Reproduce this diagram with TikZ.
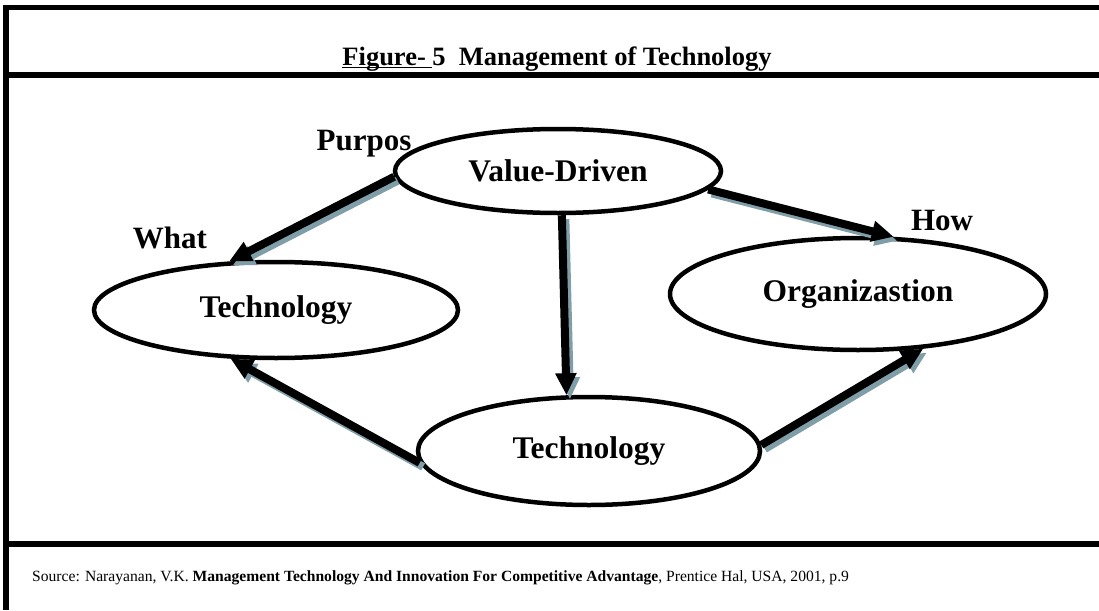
\documentclass[tikz,border=0pt]{standalone}
\usepackage{fontspec}
\setmainfont{Liberation Serif}
\usetikzlibrary{arrows.meta, shapes.geometric}
\definecolor{shadowblue}{RGB}{128,158,168}
\newlength\ullen
\newcommand\thickul[1]{\settowidth{\ullen}{#1}\rlap{\rule[-3.5pt]{\ullen}{1.8pt}}#1}
\begin{document}
\begin{tikzpicture}[
                    x=1pt, y=-1pt,
                    frame/.style={line width=5.5pt},
                    bubble/.style={ellipse, draw, line width=4.5pt, inner sep=0pt,
                        font=\bfseries\fontsize{31.5}{31.5}\selectfont},
                    tag/.style={anchor=base, font=\bfseries\fontsize{31}{31}\selectfont},
                    flow/.style={line width=8pt, -{Triangle[length=22pt,width=20pt]}},
                    flowshadow/.style={flow, draw=shadowblue},
                ]
                \useasboundingbox (0,0) rectangle (1099,610);

                \draw[frame] (1099,7.5) -- (6,7.5) -- (6,610);
                \draw[frame] (6,75) -- (1099,75);
                \draw[frame] (6,544) -- (1099,544);

                \node[anchor=base, font=\bfseries\fontsize{26.5}{26.5}\selectfont] (title) at (557,65)
                    {\thickul{Figure-\ }5\ \ Management of Technology};

                \node[bubble, minimum width=326pt, minimum height=84pt] (vd) at (558,171) {Value-Driven};
                \node[bubble, minimum width=364pt, minimum height=96pt] (tl) at (276,310) {Technology};
                \node[bubble, minimum width=376pt, minimum height=112pt] (org) at (858,294) {Organizastion};
                \node[bubble, minimum width=342pt, minimum height=108pt] (tb) at (589,451) {Technology};

                \node[tag] (purpos) at (364,150) {Purpos};
                \node[tag] (what) at (170,248) {What};
                \node[tag] (how) at (942,230) {How};

                \foreach \from/\to in {vd.182/tl.134, vd.353/org.58, vd.-85/tb.112, tb.184/tl.227, tb.2/org.320}{
                    \draw[flowshadow] ([shift={(3.5,4)}]\from) -- ([shift={(3.5,4)}]\to);
                    \draw[flow] (\from) -- (\to);
                }

                \node[anchor=base west, inner sep=0pt, font=\fontsize{15.6}{15.6}\selectfont] (source) at (32,581)
                    {Source: Narayanan, V.K. \textbf{Management Technology And Innovation For Competitive Advantage}, Prentice Hal, USA, 2001, p.9};
            \end{tikzpicture}
\end{document}
